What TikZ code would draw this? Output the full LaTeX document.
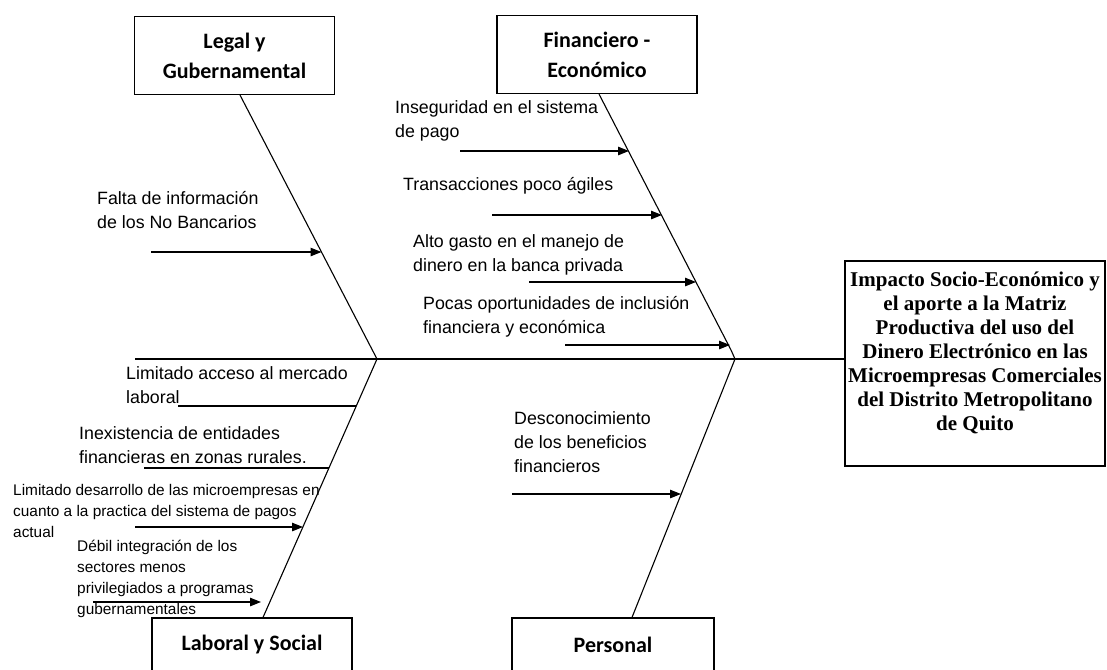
\documentclass[tikz,border=0pt]{standalone}
\usepackage{fontspec}
\setmainfont{Liberation Sans}
\newfontfamily\cajafont{Carlito}
\newfontfamily\efectofont{Liberation Serif}
\usetikzlibrary{arrows.meta}

\begin{document}
\begin{tikzpicture}[x=1pt,y=-1pt,
  caja/.style={draw,line width=1.1pt,minimum width=200pt,minimum height=78pt,inner sep=0pt,
    align=center,font=\cajafont\bfseries\fontsize{22}{30}\selectfont},
  causa/.style={inner sep=0pt,anchor=west,align=left,font=\fontsize{17.8}{24}\selectfont},
  causita/.style={inner sep=0pt,anchor=west,align=left,font=\fontsize{15.4}{21}\selectfont},
  hueso/.style={line width=1.1pt},
  flecha/.style={line width=1.1pt,-{Triangle[length=11pt,width=8.5pt]}}]
  \useasboundingbox (0,0) rectangle (1107,669);
  \clip (0,0) rectangle (1107,669);

  % categorias
  \node[caja] (legal) at (234.5,55.5) {Legal y\\Gubernamental};
  \node[caja] (finan) at (597,54.5) {Financiero -\\Económico};
  \node[caja,minimum height=54pt] (laboral) at (252,645) {Laboral y Social};
  \node[caja,minimum height=54pt,minimum width=202pt] (personal) at (613,645) {Personal};

  % efecto
  \node[draw,line width=1.1pt,minimum width=260pt,minimum height=205pt] (efecto) at (975,363.5) {};
  \node[inner sep=0pt,align=center,font=\efectofont\bfseries\fontsize{21}{24}\selectfont] (efectotxt) at (975,353)
    {Impacto Socio-Económico y\\el aporte a la Matriz\\Productiva del uso del\\Dinero Electrónico en las\\Microempresas Comerciales\\del Distrito Metropolitano\\de Quito};

  % espina
  \coordinate (cola) at (135,359);
  \coordinate (v1) at (377,359);
  \coordinate (v2) at (735,359);
  \coordinate (codo) at (731,350);
  \draw[hueso] (cola) -- (v1) -- (v2) -- (v2 -| efecto.west);
  \draw[hueso] ([xshift=5.5pt]legal.south) -- (v1) -- ([xshift=11pt]laboral.north);
  \draw[hueso] ([xshift=2pt]finan.south) -- (codo) -- (v2) -- ([xshift=19pt]personal.north);

  % puntos sobre los huesos
  \coordinate (l1) at (321.5,252);
  \coordinate (f1) at (629,151);
  \coordinate (f2) at (662,215);
  \coordinate (f3) at (696,282);
  \coordinate (f4) at (730,345);
  \coordinate (s1) at (356,406);
  \coordinate (s2) at (329,468);
  \coordinate (s3) at (303,527);
  \coordinate (s4) at (261,602);
  \coordinate (p1) at (681,494);

  \draw[flecha] ([xshift=-170.5pt]l1) -- (l1);
  \draw[flecha] ([xshift=-169pt]f1) -- (f1);
  \draw[flecha] ([xshift=-170pt]f2) -- (f2);
  \draw[flecha] ([xshift=-167pt]f3) -- (f3);
  \draw[flecha] ([xshift=-165pt]f4) -- (f4);
  \draw[hueso] ([xshift=-178pt]s1) -- (s1);
  \draw[hueso] ([xshift=-185pt]s2) -- (s2);
  \draw[flecha] ([xshift=-168pt]s3) -- (s3);
  \draw[flecha] ([xshift=-168pt]s4) -- (s4);
  \draw[flecha] ([xshift=-169pt]p1) -- (p1);

  % causas
  \node[causa] (c1) at (97,210) {Falta de información\\de los No Bancarios};
  \node[causa] (c2) at (395,121) {Inseguridad en el sistema\\de pago};
  \node[causa] (c3) at (403,186) {Transacciones poco ágiles};
  \node[causa] (c4) at (413,255) {Alto gasto en el manejo de\\dinero en la banca privada};
  \node[causa] (c5) at (423,316.5) {Pocas oportunidades de inclusión\\financiera y económica};
  \node[causa] (c6) at (126,385.5) {Limitado acceso al mercado\\laboral};
  \node[causa] (c7) at (79,445.5) {Inexistencia de entidades\\financieras en zonas rurales.};
  \node[causita] (c8) at (13,511) {Limitado desarrollo de las microempresas en\\cuanto a la practica del sistema de pagos\\actual};
  \node[causita] (c9) at (77,578.5) {Débil integración de los\\sectores menos\\privilegiados a programas\\gubernamentales};
  \node[causa] (c10) at (514,442) {Desconocimiento\\de los beneficios\\financieros};
\end{tikzpicture}
\end{document}
